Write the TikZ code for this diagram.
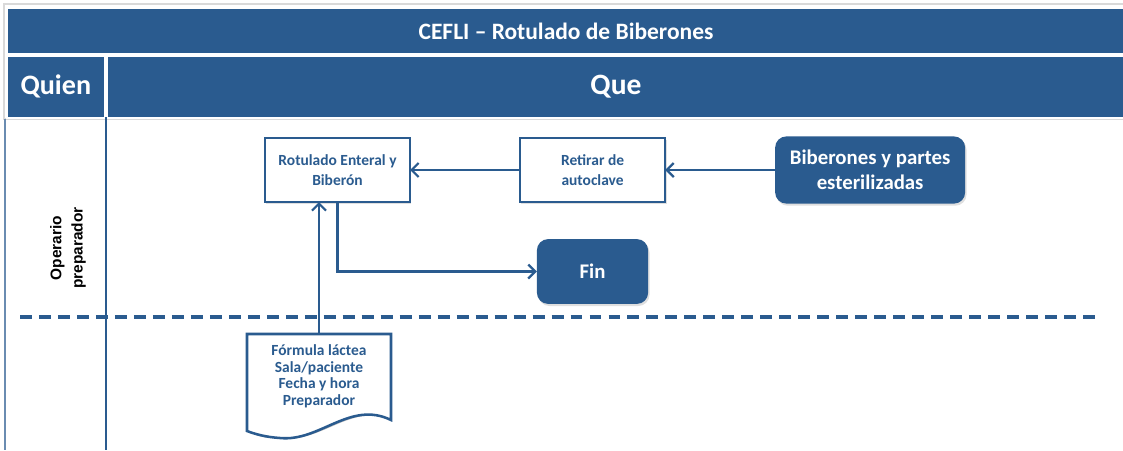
\documentclass[tikz,border=0pt]{standalone}
\usepackage{fontspec}
\setmainfont{Carlito}
\newfontfamily\arialfont{Liberation Sans}
\usepackage{tikz}
\usetikzlibrary{positioning, arrows.meta, shadows}
\definecolor{cefliblue}{HTML}{2A5B8F}

\tikzset{
	headcell/.style={fill=cefliblue, draw=white, line width=1.2pt, text=white, font=\bfseries, inner sep=0pt},
	stepbox/.style={draw=cefliblue, line width=1.8pt, outer sep=0pt, fill=white, text=cefliblue, font=\bfseries\fontsize{11}{14.5}\selectfont, align=center, minimum width=3.625cm, minimum height=1.6cm, inner sep=2pt, drop shadow={opacity=0.25, shadow xshift=1pt, shadow yshift=-1.5pt}},
	endbox/.style={fill=cefliblue, rounded corners=8pt, outer sep=0pt, text=white, font=\bfseries\fontsize{14.8}{17.5}\selectfont, align=center, inner sep=2pt, drop shadow={opacity=0.25, shadow xshift=1pt, shadow yshift=-1.5pt}},
	docline/.style={draw=cefliblue, fill=white, line width=1.8pt, line join=miter},
	flow/.style={draw=cefliblue, line width=1.8pt, -{Straight Barb[length=5pt, width=10pt, line width=1.6pt]}}
}

\begin{document}
\begin{tikzpicture}[x=0.025cm, y=-0.025cm]
		\useasboundingbox (0,0) rectangle (1123,450);
		
		%entete
		\draw[black!15, line width=0.8pt] (4,4) rectangle (1130,119);
		\node[headcell, anchor=north west, minimum width=27.95cm, minimum height=1.15cm, font=\bfseries\fontsize{16.7}{20}\selectfont] (titre) at (6,7) {CEFLI -- Rotulado de Biberones};
		\node[headcell, anchor=north west, minimum width=2.45cm, minimum height=1.55cm, font=\bfseries\fontsize{20}{24}\selectfont] (quien) at (6,55) {Quien};
		\node[headcell, anchor=north west, minimum width=25.45cm, minimum height=1.55cm, font=\bfseries\fontsize{21}{24}\selectfont] (que) at (106,55) {Que};
		
		%couloirs
		\coordinate (b1) at (5,119);
		\coordinate (b2) at (5,450);
		\coordinate (c1) at (106,117);
		\coordinate (c2) at (106,450);
		\coordinate (d1) at (20,317);
		\coordinate (d2) at (1098,317);
		\draw[cefliblue!70, line width=0.8pt] (b1) -- (b2);
		\draw[cefliblue, line width=1.8pt] (c1) -- (c2);
		\draw[cefliblue, line width=2.2pt, dash pattern=on 8.5pt off 5pt] (d1) -- (d2);
		\node[rotate=90, align=center, font=\arialfont\bfseries\fontsize{11}{15}\selectfont] (role) at (68,248) {Operario\\preparador};
		
		%etapes
		\node[stepbox] (rot) at (337.5,170) {Rotulado Enteral y\\Biberón};
		\node[stepbox, right = 2.75cm of rot] (ret) {Retirar de\\autoclave};
		\node[endbox, minimum width=4.75cm, minimum height=1.68cm, right = 2.75cm of ret] (bib) {Biberones y partes\\esterilizadas};
		\node[endbox, minimum width=2.78cm, minimum height=1.62cm] (fin) at (592.5,271.5) {Fin};
		
		%document
		\coordinate (p1) at (247,334);
		\coordinate (p2) at (391,334);
		\coordinate (p3) at (391,420);
		\coordinate (p4) at (280,438);
		\coordinate (p5) at (247,431);
		\fill[black!25, xshift=1pt, yshift=-1.5pt] (p1) -- (p2) -- (p3) .. controls (350,400) and (320,442) .. (p4) .. controls (265,437) and (255,434) .. (p5) -- cycle;
		\path[docline] (p1) -- (p2) -- (p3) .. controls (350,400) and (320,442) .. (p4) .. controls (265,437) and (255,434) .. (p5) -- cycle;
		\node[text=cefliblue, align=center, font=\bfseries\fontsize{11}{11.8}\selectfont, minimum width=3.6cm, minimum height=2.12cm, outer sep=0pt, anchor=north] (doc) at (319,334) {Fórmula láctea\\Sala/paciente\\Fecha y hora\\Preparador};
		
		%fleches
		\draw[flow] (bib) -- (ret);
		\draw[flow] (ret) -- (rot);
		\draw[flow] (doc.north) -- (doc.north |- rot.south);
		\draw[flow] (rot.south) |- (fin.west);
	\end{tikzpicture}
\end{document}
